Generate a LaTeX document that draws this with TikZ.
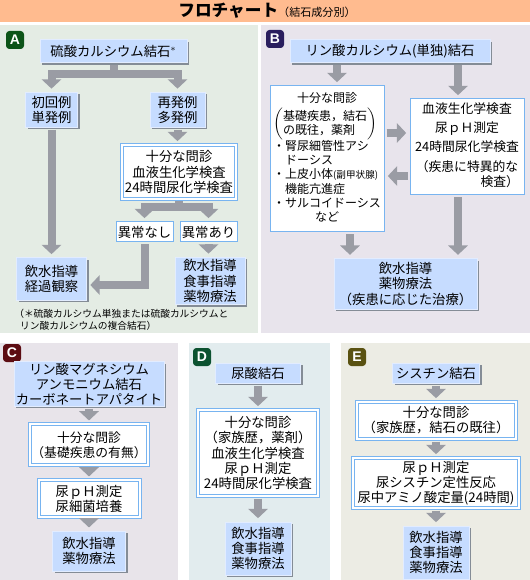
\documentclass[tikz,border=0pt]{standalone}
\usepackage{fontspec}
\setmainfont{Noto Sans CJK JP}
\newfontfamily\badgefont{Liberation Sans}
\usetikzlibrary{arrows.meta,positioning,shadows}

\definecolor{titlebg}{HTML}{FFBB8F}
\definecolor{panelA}{HTML}{E4ECE4}
\definecolor{panelB}{HTML}{E8E4EC}
\definecolor{panelC}{HTML}{E8E4EA}
\definecolor{panelD}{HTML}{E2ECEE}
\definecolor{panelE}{HTML}{ECECE4}
\definecolor{stoneblue}{HTML}{C6DCFF}
\definecolor{stoneedge}{HTML}{E2ECFF}
\definecolor{stoneshade}{HTML}{848C96}
\definecolor{checkline}{HTML}{78B4F0}
\definecolor{flowgray}{HTML}{9A9CA4}
\definecolor{badgeA}{HTML}{0C5418}
\definecolor{badgeB}{HTML}{2A1E5E}
\definecolor{badgeC}{HTML}{5C0C12}
\definecolor{badgeD}{HTML}{0C5230}
\definecolor{badgeE}{HTML}{5A5212}

\begin{document}
\begin{tikzpicture}[
    x=0.75pt, y=-0.75pt,
    font=\fontsize{10}{11.3}\selectfont,
    stone/.style={draw=stoneedge, line width=0.75pt, fill=stoneblue, align=center, inner sep=1pt,
        drop shadow={shadow xshift=1.5pt, shadow yshift=-1.5pt, opacity=1, fill=stoneshade}},
    check/.style={draw=checkline, double=white, double distance=1.5pt, line width=0.75pt,
        fill=white, align=center, inner sep=1pt},
    result/.style={draw=checkline, line width=0.75pt, fill=white, align=center, inner sep=1pt},
    flow/.style={draw=flowgray, line width=6pt, -{Triangle[width=14.5pt,length=7pt]},
        shorten <=1.5pt, shorten >=2.5pt},
    badge/.style={fill=#1, rounded corners=2.5pt, minimum size=13.5pt, inner sep=0pt,
        text=white, font=\badgefont\bfseries\fontsize{10.5}{11}\selectfont}
]
\useasboundingbox (0,0) rectangle (530,580);
\fill[white] (0,0) rectangle (530,580);

% title bar and panels
\fill[titlebg] (0,0) rectangle (530,22);
\fill[panelA] (0,25) rectangle (258,333);
\fill[panelB] (261,25) rectangle (530,333);
\fill[panelC] (0,343) rectangle (178,580);
\fill[panelD] (189,343) rectangle (330,580);
\fill[panelE] (341,343) rectangle (530,580);
\node (title) at (267,11) {{\fontsize{12.5}{13}\selectfont\bfseries フロチャート}{\fontsize{8.3}{9}\selectfont（結石成分別）}};

% A: calcium sulfate
\node[badge=badgeA] (tagA) at (15,40) {A};
\node[stone, minimum width=110.25pt, minimum height=17.25pt] (sulfate) at (113.5,51.5) {硫酸カルシウム結石$^{*}$};
\node[stone, minimum width=39pt, minimum height=26.25pt] (first) at (51.5,110) {初回例\\単発例};
\node[stone, minimum width=41.25pt, minimum height=26.25pt] (recur) at (177.5,110) {再発例\\多発例};
\node[check, minimum width=85.5pt, minimum height=40.5pt] (askA) at (179,172) {十分な問診\\血液生化学検査\\24時間尿化学検査};
\node[result, minimum width=42.75pt, minimum height=15pt] (normal) at (144.5,232) {異常なし};
\node[result, minimum width=42.75pt, minimum height=15pt] (abnormal) at (208.5,232) {異常あり};
\node[stone, minimum width=52.5pt, minimum height=31.5pt] (observe) at (51.5,279) {飲水指導\\経過観察};
\node[stone, minimum width=52.5pt, minimum height=35.25pt] (treatA) at (210,281) {飲水指導\\食事指導\\薬物療法};
\node[anchor=north west, align=left, inner sep=0pt, font=\fontsize{7.3}{9.2}\selectfont] (note) at (14,309)
    {（＊硫酸カルシウム単独または硫酸カルシウムと\\\hspace{0.6em}リン酸カルシウムの複合結石）};
\draw[flow] (sulfate.south) -- ++(0,11) -| (first.north);
\draw[flow] (sulfate.south) -- ++(0,11) -| (recur.north);
\draw[flow] (recur.south) -- (recur.south |- askA.north);
\draw[flow] (askA.south) -- ++(0,8) -| (normal.north);
\draw[flow] (askA.south) -- ++(0,8) -| (abnormal.north);
\draw[flow] (first.south) -- (observe.north);
\draw[flow] (normal.south) |- ([yshift=-4.5pt]observe.east);
\draw[flow] (abnormal.south) -- (abnormal.south |- treatA.north);

% B: calcium phosphate
\node[badge=badgeB] (tagB) at (275,39) {B};
\node[stone, minimum width=150pt, minimum height=17.25pt] (phos) at (390,51.5) {リン酸カルシウム(単独)結石};
\node[result, minimum width=85.5pt, minimum height=109.5pt, font=\fontsize{9}{10.5}\selectfont] (leftB) at (327,159) {%
    \begin{tabular}{@{}l@{}}
    \multicolumn{1}{@{}c@{}}{十分な問診}\\[1pt]
    $\left(\begin{tabular}{@{}l@{}}基礎疾患，結石\\の既往，薬剤\end{tabular}\right)$\\[1pt]
    ・腎尿細管性アシ\\
    \hspace{1em}ドーシス\\
    ・上皮小体{\fontsize{7.2}{8}\selectfont(副甲状腺)}\\
    \hspace{1em}機能亢進症\\
    ・サルコイドーシス\\
    \hspace{3.5em}など
    \end{tabular}};
\node[result, minimum width=85.5pt, minimum height=72pt, font=\fontsize{9.6}{11.2}\selectfont] (rightB) at (467,147) {%
    \begin{tabular}{@{}c@{}}
    血液生化学検査\\[3pt]
    尿ｐＨ測定\\[3pt]
    24時間尿化学検査\\[3pt]
    （疾患に特異的な\\
    \multicolumn{1}{@{}r@{}}{検査）}
    \end{tabular}};
\node[stone, minimum width=107.25pt, minimum height=38pt] (treatB) at (405.5,284) {飲水指導\\薬物療法\\（疾患に応じた治療）};
\draw[flow] ([xshift=7.5pt]leftB.north |- phos.south) -- ([xshift=7.5pt]leftB.north);
\draw[flow] ([xshift=-6.75pt]rightB.north |- phos.south) -- ([xshift=-6.75pt]rightB.north);
\draw[flow] ([yshift=19.5pt]leftB.east) -- ([yshift=19.5pt]leftB.east -| rightB.west);
\draw[flow] ([yshift=-12.75pt]leftB.east -| rightB.west) -- ([yshift=-12.75pt]leftB.east);
\draw[flow] ([xshift=17.25pt]leftB.south) -- ([xshift=17.25pt]leftB.south |- treatB.north);
\draw[flow] ([xshift=-6.75pt]rightB.south) -- ([xshift=-6.75pt]rightB.south |- treatB.north);

% C: magnesium ammonium phosphate
\node[badge=badgeC] (tagC) at (12,353) {C};
\node[stone, minimum width=112.5pt, minimum height=32pt] (mgstone) at (89,384) {リン酸マグネシウム\\アンモニウム結石\\カーボネートアパタイト};
\node[check, minimum width=84.75pt, minimum height=30.75pt, below=12.75pt of mgstone, font=\fontsize{9.6}{11.2}\selectfont] (askC) {十分な問診\\（基礎疾患の有無）};
\node[check, minimum width=75.75pt, minimum height=27.75pt, below=10.5pt of askC] (testC) {尿ｐＨ測定\\尿細菌培養};
\node[stone, minimum width=54.75pt, minimum height=30pt, below=9.75pt of testC] (treatC) {飲水指導\\薬物療法};
\draw[flow] (mgstone) -- (askC);
\draw[flow] (askC) -- (testC);
\draw[flow] (testC) -- (treatC);

% D: uric acid
\node[badge=badgeD] (tagD) at (202,357) {D};
\node[stone, minimum width=63.75pt, minimum height=15pt] (uric) at (258,373) {尿酸結石};
\node[check, minimum width=90pt, minimum height=64.5pt, below=19.5pt of uric] (askD) {十分な問診\\（家族歴，薬剤）\\血液生化学検査\\尿ｐＨ測定\\24時間尿化学検査};
\node[stone, minimum width=49.5pt, minimum height=40pt, below=18.75pt of askD] (treatD) {飲水指導\\食事指導\\薬物療法};
\draw[flow] (uric) -- (askD);
\draw[flow] (askD) -- (treatD);

% E: cystine
\node[badge=badgeE] (tagE) at (357,357) {E};
\node[stone, minimum width=65.25pt, minimum height=15pt] (cystine) at (436,373) {シスチン結石};
\node[check, minimum width=119.25pt, minimum height=27.75pt, below=13.5pt of cystine] (askE) {十分な問診\\（家族歴，結石の既往）};
\node[check, minimum width=124.5pt, minimum height=37.5pt, below=13.5pt of askE] (testE) {尿ｐＨ測定\\尿シスチン定性反応\\尿中アミノ酸定量(24時間)};
\node[stone, minimum width=49.5pt, minimum height=40pt, below=12.75pt of testE] (treatE) {飲水指導\\食事指導\\薬物療法};
\draw[flow] (cystine) -- (askE);
\draw[flow] (askE) -- (testE);
\draw[flow] (testE) -- (treatE);
\end{tikzpicture}
\end{document}
